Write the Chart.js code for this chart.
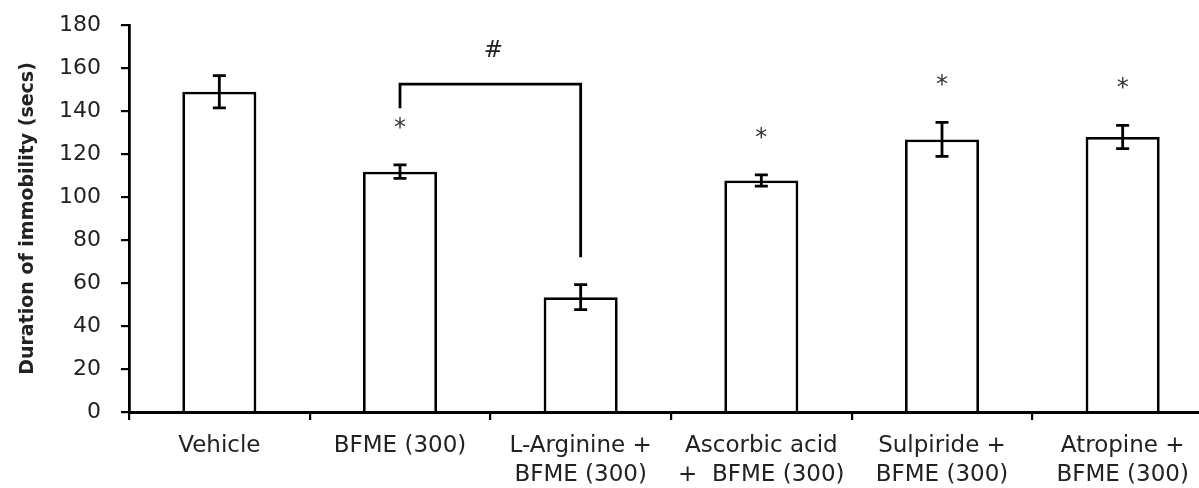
<!DOCTYPE html>
<html><head><meta charset="utf-8">
<script src="https://cdn.jsdelivr.net/npm/chart.js@4"></script>
<style>
html,body{margin:0;padding:0;background:#fff;overflow:hidden;}
#wrap{position:relative;width:1214px;height:488px;}
</style></head><body>
<div id="wrap"><canvas id="c"></canvas></div>
<script>
const categories = [
  ['Vehicle'],
  ['BFME (300)'],
  ['L-Arginine +', 'BFME (300)'],
  ['Ascorbic acid', '+  BFME (300)'],
  ['Sulpiride +', 'BFME (300)'],
  ['Atropine +', 'BFME (300)']
];
const means = [149, 111.8, 53.4, 107.7, 126.8, 127.9];
const errors = [7.5, 3.1, 5.8, 2.6, 7.9, 5.4];
const marks = ['', '*', '', '*', '*', '*'];
const yMin = 0, yMax = 180, yStep = 20;
const yTitle = 'Duration of immobility (secs)';
const comparison = {from: 1, to: 2, label: '#', leftEnd: 141.3, top: 152.5, rightEnd: 72, labelAt: 168};

const annotate = {
  id: 'annotate',
  afterDatasetsDraw(chart) {
    const ctx = chart.ctx, y = chart.scales.y, meta = chart.getDatasetMeta(0);
    ctx.save();
    ctx.strokeStyle = '#000';
    ctx.lineWidth = 2.8;
    ctx.lineCap = 'butt';
    means.forEach((m, i) => {
      const x = meta.data[i].x;
      const yt = y.getPixelForValue(m + errors[i]);
      const yb = y.getPixelForValue(m - errors[i]);
      ctx.beginPath();
      ctx.moveTo(x, yt); ctx.lineTo(x, yb);
      ctx.moveTo(x - 6.5, yt); ctx.lineTo(x + 6.5, yt);
      ctx.moveTo(x - 6.5, yb); ctx.lineTo(x + 6.5, yb);
      ctx.stroke();
      if (marks[i]) {
        ctx.fillStyle = '#333';
        ctx.font = '24px "DejaVu Sans"';
        ctx.textAlign = 'center';
        ctx.textBaseline = 'alphabetic';
        ctx.fillText(marks[i], x, y.getPixelForValue(m + errors[i] + 20) + 13);
      }
    });
    const x1 = meta.data[comparison.from].x, x2 = meta.data[comparison.to].x;
    ctx.beginPath();
    ctx.moveTo(x1, y.getPixelForValue(comparison.leftEnd));
    ctx.lineTo(x1, y.getPixelForValue(comparison.top));
    ctx.lineTo(x2, y.getPixelForValue(comparison.top));
    ctx.lineTo(x2, y.getPixelForValue(comparison.rightEnd));
    ctx.stroke();
    ctx.fillStyle = '#222';
    ctx.font = '23px "DejaVu Sans"';
    ctx.textAlign = 'center';
    ctx.textBaseline = 'middle';
    ctx.fillText(comparison.label, (x1 + x2) / 2 + 3, y.getPixelForValue(comparison.labelAt));
    ctx.restore();
  }
};

new Chart(document.getElementById('c'), {
  type: 'bar',
  data: {
    labels: categories,
    datasets: [{
      data: means,
      backgroundColor: '#ffffff',
      borderColor: '#000000',
      borderWidth: 2.8,
      barPercentage: 0.41,
      categoryPercentage: 1
    }]
  },
  options: {
    responsive: true,
    maintainAspectRatio: false,
    devicePixelRatio: 1,
    animation: false,
    layout: {padding: {top: 25, right: 1, bottom: 0, left: 0}},
    plugins: {legend: {display: false}, tooltip: {enabled: false}},
    scales: {
      x: {
        grid: {offset: true, drawOnChartArea: false, drawTicks: true, tickLength: 8, color: '#000', lineWidth: 2.2},
        border: {color: '#000', width: 3},
        ticks: {padding: 12, color: '#222', maxRotation: 0, autoSkip: false,
          font: {family: 'DejaVu Sans', size: 23, lineHeight: 1.25}},
        afterFit: s => { s.height = 76; s.paddingLeft = 0; s.paddingRight = 0; }
      },
      y: {
        min: yMin, max: yMax,
        ticks: {stepSize: yStep, padding: 20, color: '#222', font: {family: 'DejaVu Sans', size: 22}},
        grid: {drawOnChartArea: false, drawTicks: true, tickLength: 8, color: '#000', lineWidth: 2.2},
        border: {color: '#000', width: 2.8},
        title: {display: true, text: yTitle, color: '#222',
          font: {family: 'DejaVu Sans', size: 19, weight: 'bold'}, padding: {top: 16.6, bottom: 0}},
        afterFit: s => { s.width = 129; s.paddingTop = 0; s.paddingBottom = 0; }
      }
    }
  },
  plugins: [annotate]
});
</script>
</body></html>
